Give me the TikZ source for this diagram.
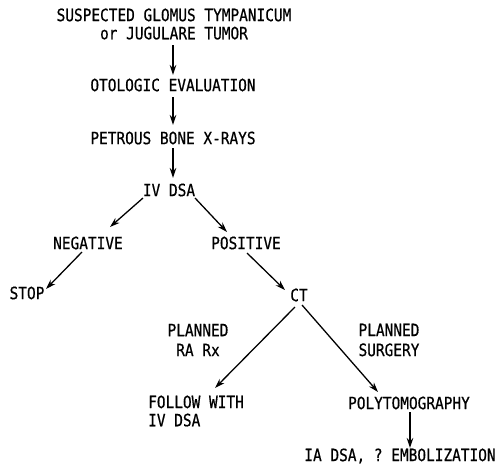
\documentclass[tikz,border=0pt]{standalone}
\usepackage{fontspec}
\setmonofont[FakeStretch=0.85, FakeBold=0.6]{DejaVu Sans Mono}
\usetikzlibrary{arrows.meta, positioning, calc}

\begin{document}
\begin{tikzpicture}[
      x=0.03cm, y=-0.03cm,
      step box/.style={inner sep=2pt, align=center, font=\ttfamily\fontsize{14.5}{15.5}\selectfont},
      flow/.style={-{Stealth[length=8.5pt, width=5.5pt]}, line width=1.1pt}
    ]
    \useasboundingbox (0,0) rectangle (497,464);
    \node[step box] (suspect) at (174,24) {SUSPECTED GLOMUS TYMPANICUM\\or JUGULARE TUMOR};
    \node[step box] (otologic) at (173,85) {OTOLOGIC EVALUATION};
    \node[step box] (petrous) at (173,138) {PETROUS BONE X-RAYS};
    \node[step box] (ivdsa) at (169,190) {IV DSA};
    \node[step box] (negative) at (88,243) {NEGATIVE};
    \node[step box] (positive) at (246,243) {POSITIVE};
    \node[step box] (stop) at (27,293) {STOP};
    \node[step box] (ct) at (299,295) {CT};
    \node[step box, font=\ttfamily\fontsize{14.5}{17}\selectfont] (rarx) at (198,340) {PLANNED\\RA Rx};
    \node[step box, font=\ttfamily\fontsize{14.5}{17}\selectfont] (surgery) at (389,340) {PLANNED\\SURGERY};
    \node[step box, align=left] (follow) at (196,411) {FOLLOW WITH\\IV DSA};
    \node[step box] (poly) at (409,403) {POLYTOMOGRAPHY};
    \node[step box, inner sep=0pt] (iadsa) at (400,456) {IA DSA, ? EMBOLIZATION};

    \draw[flow] ($(suspect)+(-1,21)$) -- ($(otologic)+(0,-10)$);
    \draw[flow] ($(otologic)+(0,12)$) -- ($(petrous)+(0,-13)$);
    \draw[flow] ($(petrous)+(0,10)$) -- ($(ivdsa)+(4,-12)$);
    \draw[flow] ($(ivdsa)+(-26,8)$) -- ($(negative)+(22,-16)$);
    \draw[flow] ($(ivdsa)+(26,8)$) -- ($(positive)+(-19,-11)$);
    \draw[flow] ($(negative)+(-6,9)$) -- ($(stop)+(19,-4)$);
    \draw[flow] ($(positive)+(1,10)$) -- ($(ct)+(-14,-5)$);
    \draw[flow] ($(ct)+(-4,12)$) -- ($(follow)+(19,-23)$);
    \draw[flow] ($(ct)+(3,10)$) -- ($(poly)+(-31,-11)$);
    \draw[flow] ($(poly)+(1,9)$) -- ($(iadsa)+(10,-8)$);
  \end{tikzpicture}
\end{document}
